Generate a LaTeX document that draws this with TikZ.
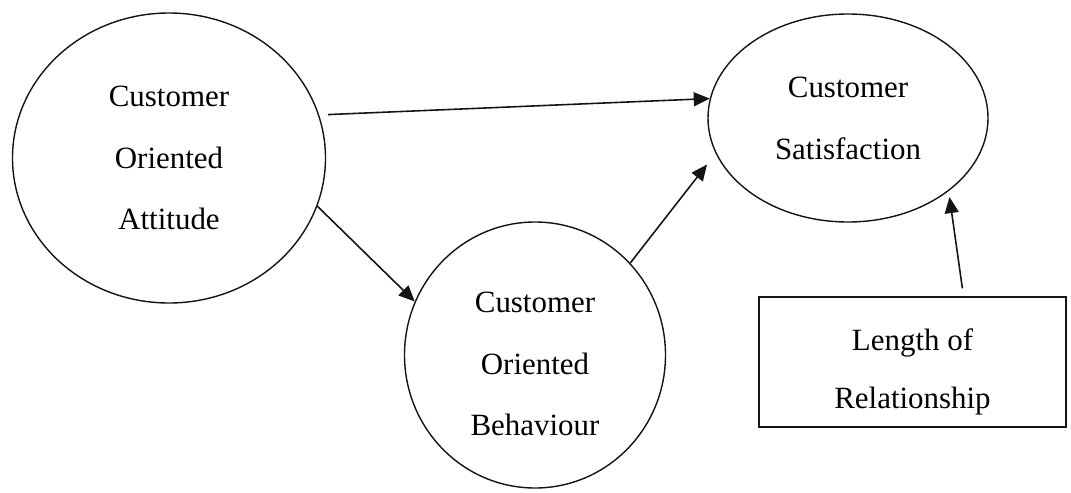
\documentclass[tikz,border=0pt]{standalone}
\usepackage{fontspec}
\setmainfont{Liberation Serif}
\usepackage{tikz}
\usetikzlibrary{shapes.geometric, arrows.meta, positioning}
\definecolor{mydark}{RGB}{20,20,20}
\tikzset{
  construct/.style={ellipse, draw=mydark, line width=0.8pt, align=center,
    inner sep=0pt, font=\fontsize{17.6}{35.2}\selectfont},
  factor/.style={rectangle, draw=mydark, line width=0.8pt, align=center,
    inner sep=0pt, font=\fontsize{17.6}{33}\selectfont},
  arrow/.style={-{Triangle[length=3.2mm, width=2.8mm]}, line width=0.9pt, color=mydark}
}

\begin{document}
\begin{tikzpicture}
    \useasboundingbox (0,0) rectangle (21.42,-9.84);
    % Constructs
    \node[construct, minimum width=6.26cm, minimum height=5.8cm] (att) at (3.38,-3.16)
      {Customer\\Oriented\\Attitude};
    \node[construct, minimum width=5.6cm, minimum height=4.16cm] (sat) at (16.96,-2.36)
      {Customer\\Satisfaction};
    \node[construct, minimum width=5.22cm, minimum height=5.32cm, text height=92.3pt] (beh) at (10.70,-7.10)
      {Customer\\Oriented\\Behaviour};
    % Moderator
    \node[factor, minimum width=6.14cm, minimum height=2.6cm, text height=56.5pt] (rel) at (18.25,-7.24)
      {Length of\\Relationship};
    % Paths
    \draw[arrow, shorten <=0.18cm] (att.16) -- (sat.172);
    \draw[arrow] (att.-18) -- (beh.156);
    \draw[arrow, shorten >=0.28cm] (beh.44) -- (sat.195);
    \draw[arrow, shorten <=0.16cm, shorten >=0.12cm] ([xshift=1.02cm]rel.north) -- (sat.-36);
\end{tikzpicture}
\end{document}
